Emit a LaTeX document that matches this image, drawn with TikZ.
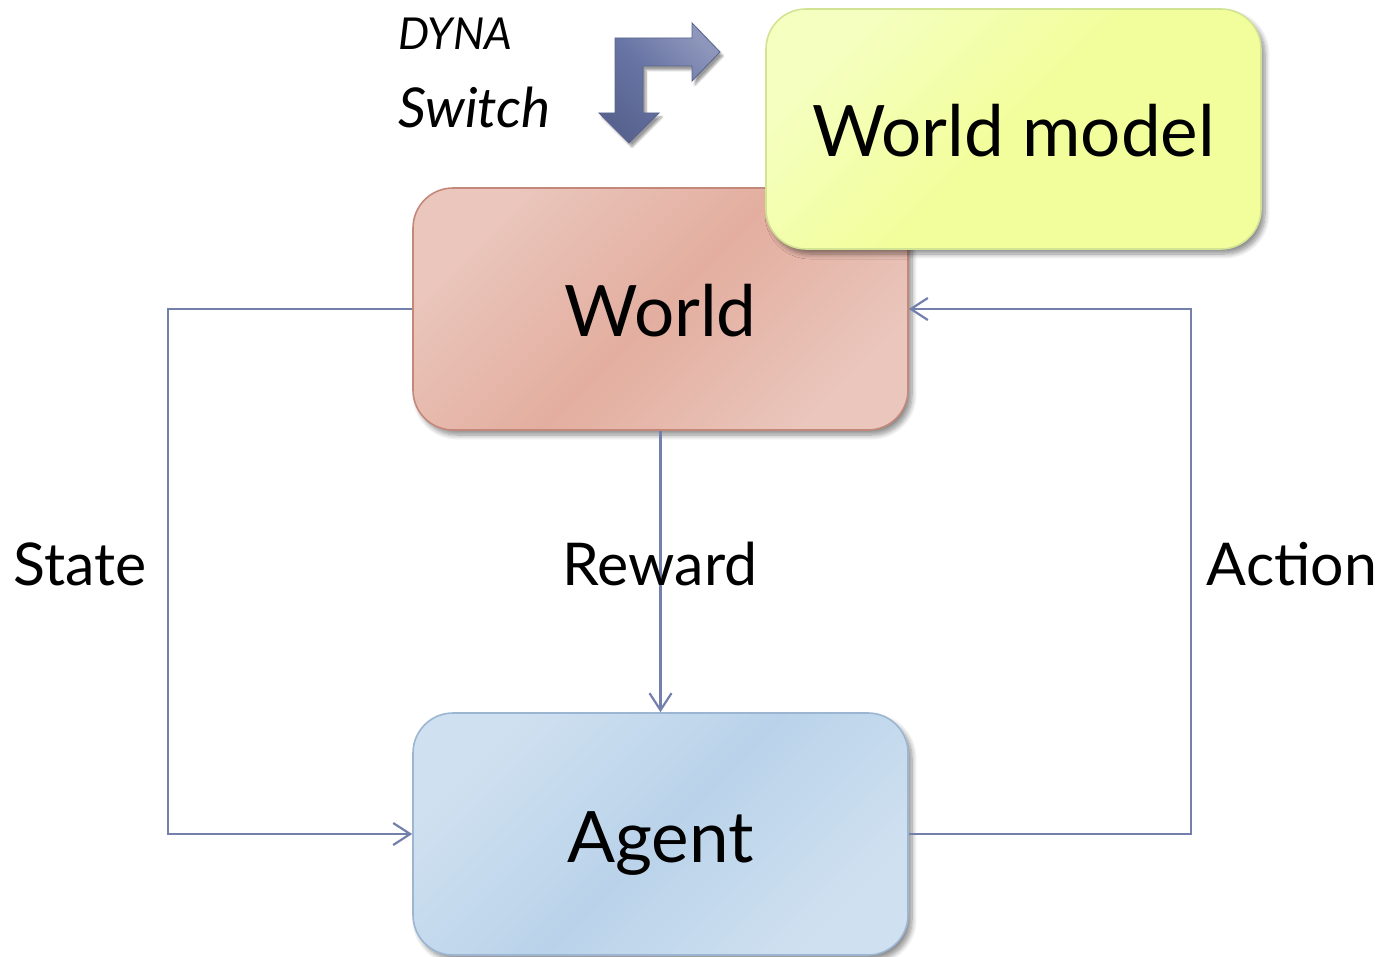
\documentclass[tikz,border=0pt]{standalone}
\usepackage{fontspec}
\setmainfont{Lato}
\usetikzlibrary{arrows.meta,shadows.blur}

\definecolor{worldlight}{HTML}{EAC6BC}
\definecolor{worldmid}{HTML}{E3AE9F}
\definecolor{worldedge}{HTML}{C4887A}
\definecolor{modellight}{HTML}{F5FFC0}
\definecolor{modelmid}{HTML}{F2FE9B}
\definecolor{modeledge}{HTML}{D3E394}
\definecolor{agentlight}{HTML}{CFE0F0}
\definecolor{agentmid}{HTML}{BAD3EA}
\definecolor{agentedge}{HTML}{9CB6D2}
\definecolor{wire}{HTML}{7480AC}
\definecolor{switchfill}{HTML}{6874A4}
\definecolor{switchdark}{HTML}{58638F}

\begin{document}
\begin{tikzpicture}[x=1pt,y=-1pt,
  panel/.style={rectangle, rounded corners=40pt, minimum width=495pt,
    minimum height=242pt, line width=1.6pt, text height=56pt, text depth=0pt,
    font=\fontsize{71}{76}\selectfont,
    blur shadow={shadow xshift=4pt, shadow yshift=-5pt, shadow blur steps=8,
      shadow blur radius=5pt, shadow opacity=45}},
  wireline/.style={draw=wire, line width=2.2pt,
    -{Straight Barb[length=17pt,width=22pt,line width=2.2pt]}},
  tag/.style={anchor=base, font=\fontsize{59}{63}\selectfont},
  note/.style={anchor=base west}
]
\useasboundingbox (0,0) rectangle (1383,957);

% the three boxes
\node[panel, draw=worldedge, top color=worldlight, bottom color=worldlight,
  middle color=worldmid, shading angle=45] (world) at (660.5,309) {World};
\node[panel, minimum height=240pt, draw=modeledge, top color=modellight,
  bottom color=modelmid, middle color=modelmid, shading angle=45]
  (model) at (1013.5,129) {World model};
\node[panel, draw=agentedge, top color=agentlight, bottom color=agentlight,
  middle color=agentmid, shading angle=45] (agent) at (660.5,834) {Agent};

% bends of the side loops
\coordinate (sl) at (168,0);
\coordinate (sr) at (1191,0);

% connectors
\draw[wireline] (world.west) -- (world.west -| sl) -- (agent.west -| sl) -- (agent.west);
\draw[wireline] (world.south) -- (agent.north);
\draw[wireline] (agent.east) -- (agent.east -| sr) -- (world.east -| sr) -- (world.east);

% connector labels
\node[tag] (state) at (80,585) {State};
\node[tag] (reward) at (660,585) {Reward};
\node[tag] (action) at (1292,585) {Action};

% switch caption
\node[note, font=\fontsize{44}{48}\selectfont\itshape] (dyna) at (395,50) {DYNA};
\node[note, font=\fontsize{55}{60}\selectfont\itshape] (switch) at (395,128) {Switch};

% bent switch arrow
\path[draw=switchdark, line width=0.8pt, line join=miter,
  top color=switchfill!75!white, bottom color=switchdark, middle color=switchfill,
  shading angle=-45,
  blur shadow={shadow xshift=3pt, shadow yshift=-4pt, shadow blur steps=6,
    shadow opacity=40}]
  (615,113) -- (615,38) -- (692,38) -- (692,23) -- (720,52) -- (692,81)
  -- (692,66) -- (643,66) -- (643,113) -- (659,113) -- (629,143)
  -- (599,113) -- cycle;
\end{tikzpicture}
\end{document}
